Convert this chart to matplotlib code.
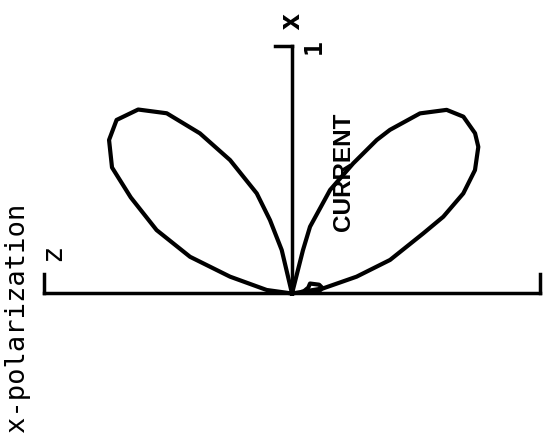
import numpy as np
import matplotlib
matplotlib.use('Agg')
import matplotlib.pyplot as plt

# radiation pattern of the current element, polar samples (deg, normalised r)
theta_right = [5, 9.4, 14.6, 18.9, 24.6, 26.9, 30.3, 34.0, 38.2, 41.2, 45.9,
               49.9, 54.6, 59.1, 61.1, 64.8, 69.8, 74.9, 75.8, 77]
r_right = [0, 0.128, 0.269, 0.418, 0.582, 0.684, 0.800, 0.890, 0.956, 0.981, 0.993,
           0.968, 0.891, 0.769, 0.707, 0.580, 0.445, 0.279, 0.180, 0]

theta_left = [102, 103.3, 106.7, 109.4, 114.9, 119.9, 124.8, 129.9, 135.3, 140.0,
              145.0, 149.2, 154.9, 160.2, 164.8, 172.1, 176]
r_left = [0, 0.180, 0.309, 0.428, 0.593, 0.745, 0.885, 0.967, 0.995, 0.963,
          0.886, 0.757, 0.603, 0.437, 0.259, 0.103, 0]

# small side lobe next to the z axis (closed loop)
theta_small = [8, 20, 29, 18, 10, 5, 4, 8]
r_small = [0.045, 0.070, 0.083, 0.115, 0.125, 0.110, 0.070, 0.045]

AXIS_LEN = 1.0
TICK = 0.078

fig = plt.figure(figsize=(5.48, 4.44), dpi=100)
ax = fig.add_axes([0, 0, 1, 1])
ax.set_xlim(-292 / 248, (548 - 292) / 248)
ax.set_ylim(-(444 - 293.5) / 248, 293.5 / 248)
ax.set_aspect('equal')
ax.axis('off')


def polar_xy(th, r):
    th = np.radians(th)
    r = np.asarray(r)
    return r * np.cos(th), r * np.sin(th)


for th, r in [(theta_right, r_right), (theta_left, r_left), (theta_small, r_small)]:
    x, y = polar_xy(th, r)
    ax.plot(x, y, color='black', lw=3.0, solid_joinstyle='round')

# axes: z horizontal with end ticks, x vertical with tick at the top
ax.plot([-AXIS_LEN, AXIS_LEN], [0, 0], color='black', lw=2.5)
ax.plot([-AXIS_LEN, -AXIS_LEN], [0, TICK], color='black', lw=2.5)
ax.plot([AXIS_LEN, AXIS_LEN], [0, TICK], color='black', lw=2.5)
ax.plot([0, 0], [0, AXIS_LEN], color='black', lw=2.5)
ax.plot([-0.07, 0], [AXIS_LEN, AXIS_LEN], color='black', lw=2.5)

mono = 'DejaVu Sans Mono'
ax.text(-0.968, 0.167, 'z', family=mono, fontsize=21, rotation=90, ha='center', va='center')
ax.text(-0.004, 1.099, 'x', family=mono, fontsize=21, fontweight='bold', rotation=90,
        ha='center', va='center')
ax.text(0.087, 0.994, '1', family=mono, fontsize=18, fontweight='bold', rotation=90,
        ha='center', va='center')
ax.text(0.206, 0.49, 'CURRENT', family=['Liberation Sans', 'DejaVu Sans'],
        fontsize=17.5, fontweight='bold', rotation=90, ha='center', va='center')

fig.text(17.5 / 548, 1 - 317.5 / 444, 'x-polarization', family=mono, fontsize=19.5,
         rotation=90, ha='center', va='center')

fig.savefig('out.png', dpi=100, facecolor='white')
